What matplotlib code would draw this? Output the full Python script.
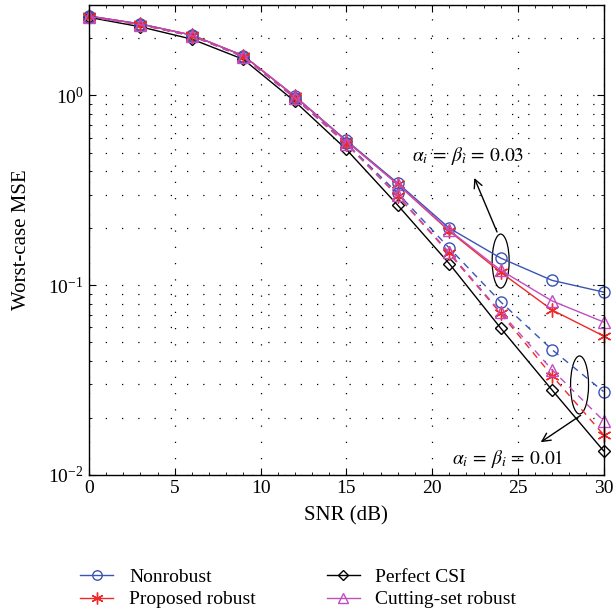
import matplotlib
matplotlib.use("Agg")
import matplotlib.pyplot as plt
from matplotlib.patches import Ellipse
from matplotlib.ticker import LogLocator, NullFormatter, FixedLocator, MultipleLocator

plt.rcParams['font.family'] = ['Liberation Serif', 'DejaVu Serif']
plt.rcParams['mathtext.fontset'] = 'stix'

snr = [0, 3, 6, 9, 12, 15, 18, 21, 24, 27, 30]
nonrobust_003 = [2.62, 2.38, 2.08, 1.62, 0.99, 0.58, 0.345, 0.200, 0.139, 0.106, 0.092]
robust_003 = [2.62, 2.38, 2.08, 1.62, 0.99, 0.575, 0.340, 0.193, 0.117, 0.074, 0.054]
cutting_003 = [2.62, 2.38, 2.08, 1.62, 0.99, 0.575, 0.340, 0.195, 0.120, 0.0826, 0.064]
nonrobust_001 = [2.60, 2.36, 2.06, 1.60, 0.97, 0.56, 0.305, 0.157, 0.0817, 0.0457, 0.0275]
robust_001 = [2.60, 2.36, 2.06, 1.60, 0.97, 0.555, 0.295, 0.147, 0.071, 0.0333, 0.0163]
cutting_001 = [2.60, 2.36, 2.06, 1.60, 0.97, 0.557, 0.297, 0.149, 0.072, 0.0358, 0.0193]
perfect = [2.58, 2.30, 1.98, 1.55, 0.93, 0.52, 0.264, 0.130, 0.0594, 0.028, 0.0134]

blue = '#3a55b4'
red = '#f02828'
mag = '#c04ec0'

fig = plt.figure(figsize=(6.14, 6.16), dpi=100)
ax = fig.add_axes([0.145, 0.229, 0.838, 0.763])

ms = 8
ast = (6, 2, 0)
common = dict(lw=1.0, clip_on=False)
ax.plot(snr, nonrobust_003, '-', color=blue, marker='o', mfc='none', ms=ms, label='Nonrobust', **common)
ax.plot(snr, robust_003, '-', color=red, marker=ast, ms=ms + 2, label='Proposed robust', **common)
ax.plot(snr, perfect, '-', color='black', marker='D', mfc='none', ms=ms - 1.5, label='Perfect CSI', **common)
ax.plot(snr, cutting_003, '-', color=mag, marker='^', mfc='none', ms=ms, label='Cutting-set robust', **common)
ax.plot(snr, nonrobust_001, '--', color=blue, marker='o', mfc='none', ms=ms, dashes=(5, 4), **common)
ax.plot(snr, robust_001, '--', color=red, marker=ast, ms=ms + 2, dashes=(5, 4), **common)
ax.plot(snr, cutting_001, '--', color=mag, marker='^', mfc='none', ms=ms, dashes=(5, 4), **common)

ax.set_yscale('log')
ax.set_xlim(0, 30)
ax.set_ylim(0.01, 3.0)
ax.xaxis.set_major_locator(FixedLocator([0, 5, 10, 15, 20, 25, 30]))
ax.xaxis.set_minor_locator(MultipleLocator(1))
ax.yaxis.set_major_locator(LogLocator(base=10, numticks=10))
ax.yaxis.set_minor_locator(LogLocator(base=10, subs=range(2, 10), numticks=20))
ax.yaxis.set_minor_formatter(NullFormatter())
ax.tick_params(which='both', direction='in', top=True, right=True, labelsize=14, pad=4)
ax.tick_params(which='major', length=5)
ax.tick_params(which='minor', length=2.5)
gstyle = dict(color='black', linestyle=(0, (1, 12)), lw=0.9)
ax.grid(True, which='major', axis='both', **gstyle)
ax.grid(True, which='minor', axis='y', **gstyle)
for s in ax.spines.values():
    s.set_linewidth(1.0)

ax.set_xlabel('SNR (dB)', fontsize=15, labelpad=6)
ax.set_ylabel('Worst-case MSE', fontsize=15, labelpad=12)

fig.canvas.draw()
def to_axes(x, y):
    return ax.transAxes.inverted().transform(ax.transData.transform((x, y)))

c1 = to_axes(24.0, 0.134)
ax.add_patch(Ellipse(c1, 17 / 515, 54 / 470, transform=ax.transAxes, fill=False, ec='black', lw=0.9))
c2 = to_axes(28.6, 0.0298)
ax.add_patch(Ellipse(c2, 18 / 515, 58 / 470, transform=ax.transAxes, fill=False, ec='black', lw=0.9))

ax.annotate('', xy=(22.4, 0.379), xytext=(23.85, 0.185),
            arrowprops=dict(arrowstyle='->', color='black', lw=1.0, mutation_scale=15))
ax.annotate('', xy=(26.2, 0.0146), xytext=(28.8, 0.021),
            arrowprops=dict(arrowstyle='->', color='black', lw=1.0, mutation_scale=15))
ax.text(22.1, 0.477, r'$\alpha_i\, =\, \beta_i\, =\, 0.03$', fontsize=14, ha='center', va='center')
ax.text(24.4, 0.0121, r'$\alpha_i\, =\, \beta_i\, =\, 0.01$', fontsize=14, ha='center', va='center')

leg = fig.legend(loc='center', bbox_to_anchor=(0.486, 0.045), ncol=2, frameon=False, fontsize=14,
                 handlelength=1.7, columnspacing=3.65, labelspacing=0.25, handletextpad=0.8,
                 markerscale=0.85)

fig.savefig('out.png', dpi=100)
